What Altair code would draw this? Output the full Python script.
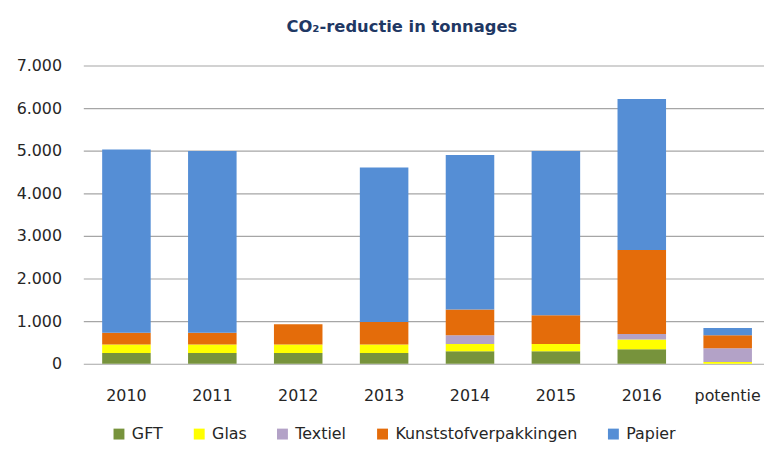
import altair as alt
import pandas as pd

categories = ["2010", "2011", "2012", "2013", "2014", "2015", "2016", "potentie"]
series = ["GFT", "Glas", "Textiel", "Kunststofverpakkingen", "Papier"]
colors = ["#77933C", "#FFFF00", "#B3A2C7", "#E46C0A", "#558ED5"]

gft = [250, 250, 250, 250, 295, 295, 342, 0]
glas = [200, 200, 200, 200, 170, 170, 225, 40]
textiel = [0, 0, 0, 0, 202, 0, 131, 325]
kunststof = [279, 279, 474, 528, 605, 675, 1969, 302]
papier = [4301, 4261, 0, 3627, 3628, 3853, 3545, 173]

values = [gft, glas, textiel, kunststof, papier]
rows = []
for si, (name, vals) in enumerate(zip(series, values)):
    for c, v in zip(categories, vals):
        rows.append({"cat": c, "serie": name, "idx": si, "waarde": v})
df = pd.DataFrame(rows)

FONT = "DejaVu Sans"

chart = alt.Chart(df).mark_bar().encode(
    x=alt.X("cat:N", sort=categories,
            scale=alt.Scale(paddingInner=0.435, paddingOuter=0.18, align=0.61),
            axis=alt.Axis(title=None, labelAngle=0, ticks=False, domain=False,
                          labelFontSize=16, labelColor="#262626", labelFont=FONT,
                          labelPadding=24, grid=False)),
    y=alt.Y("waarde:Q", stack="zero",
            scale=alt.Scale(domain=[0, 7000], nice=False),
            axis=alt.Axis(title=None, values=[0, 1000, 2000, 3000, 4000, 5000, 6000, 7000],
                          labelExpr="replace(format(datum.value, ',d'), ',', '.')",
                          ticks=False, domain=False, labelFontSize=16,
                          labelColor="#262626", labelFont=FONT, labelPadding=22,
                          gridColor="#A6A6A6", gridWidth=1.2)),
    color=alt.Color("serie:N", sort=series,
                    scale=alt.Scale(domain=series, range=colors),
                    legend=alt.Legend(title=None, orient="none", direction="horizontal",
                                      legendX=28, legendY=364, columns=5,
                                      symbolType="square", symbolSize=121,
                                      symbolStrokeWidth=0, labelFontSize=16,
                                      labelFont=FONT, labelColor="#262626",
                                      labelLimit=400,
                                      columnPadding=28, labelOffset=5, padding=0)),
    order=alt.Order("idx:Q", sort="ascending"),
).properties(
    width=687,
    height=301,
    title=alt.TitleParams("CO₂-reductie in tonnages", anchor="middle", frame="group",
                          dx=-22, offset=22, fontSize=16.5, font=FONT,
                          fontWeight="bold", color="#1F3864"),
    autosize=alt.AutoSizeParams(type="none"),
    padding={"left": 76, "top": 56, "right": 0, "bottom": 79},
).configure_view(stroke=None)

chart.save("out.html", embed_options={"renderer": "svg", "actions": False})
